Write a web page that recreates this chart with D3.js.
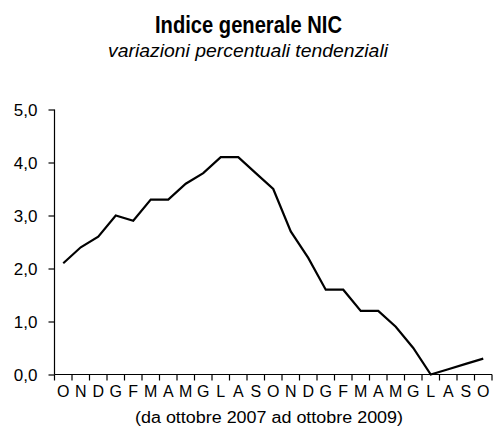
<!DOCTYPE html>
<html>
<head>
<meta charset="utf-8">
<script src="https://cdn.jsdelivr.net/npm/d3@7"></script>
<style>
  body { margin: 0; background: #fff; }
  svg text { font-family: "Liberation Sans", Arial, sans-serif; fill: #000; }
</style>
</head>
<body>
<svg id="chart"></svg>
<script>
// mesi da ottobre 2007 a ottobre 2009
const months = ["O", "N", "D", "G", "F", "M", "A", "M", "G", "L", "A", "S",
                "O", "N", "D", "G", "F", "M", "A", "M", "G", "L", "A", "S", "O"];
const values = [2.1, 2.4, 2.6, 3.0, 2.9, 3.3, 3.3, 3.6, 3.8, 4.1, 4.1, 3.8,
                3.5, 2.7, 2.2, 1.6, 1.6, 1.2, 1.2, 0.9, 0.5, 0.0, 0.1, 0.2, 0.3];
const yTicks = [0, 1, 2, 3, 4, 5];
const title = "Indice generale NIC";
const subtitle = "variazioni percentuali tendenziali";
const caption = "(da ottobre 2007 ad ottobre 2009)";

const width = 493, height = 436;
const plotLeft = 54.5, plotRight = 492, plotTop = 109.5, plotBottom = 374.5;

const data = months.map((m, i) => ({ key: i, label: m, v: values[i] }));

const x = d3.scaleBand()
    .domain(data.map(d => d.key))
    .range([plotLeft, plotRight]);
const y = d3.scaleLinear()
    .domain([0, 5])
    .range([plotBottom, plotTop]);

const svg = d3.select("#chart")
    .attr("width", width)
    .attr("height", height);

// titoli (carattere stretto: compresso con textLength)
svg.append("text")
    .attr("x", 248.5).attr("y", 32.5)
    .attr("text-anchor", "middle")
    .attr("textLength", 187)
    .attr("lengthAdjust", "spacingAndGlyphs")
    .style("font-weight", "bold")
    .style("font-size", "23px")
    .text(title);
svg.append("text")
    .attr("x", 248).attr("y", 57)
    .attr("text-anchor", "middle")
    .attr("textLength", 280)
    .attr("lengthAdjust", "spacingAndGlyphs")
    .style("font-style", "italic")
    .style("font-size", "19px")
    .text(subtitle);

// asse y
const yAxis = svg.append("g")
    .attr("transform", "translate(" + plotLeft + ",0)")
    .call(d3.axisLeft(y)
        .tickValues(yTicks)
        .tickSize(6)
        .tickPadding(11)
        .tickFormat(d => d3.format(".1f")(d).replace(".", ",")));
yAxis.select(".domain").attr("d", "M0," + plotTop + "V" + plotBottom).attr("stroke-width", 1.2);
yAxis.selectAll(".tick line").attr("stroke-width", 1.2);
yAxis.selectAll("text").style("font-size", "17px").attr("dy", "0.35em");

// asse x: tacche ai bordi delle categorie
const xAxis = svg.append("g")
    .attr("transform", "translate(0," + plotBottom + ")");
xAxis.append("line")
    .attr("x1", plotLeft).attr("x2", plotRight)
    .attr("stroke", "#000").attr("stroke-width", 1.2);
xAxis.selectAll(".tk")
    .data(d3.range(months.length + 1))
    .join("line")
    .attr("class", "tk")
    .attr("x1", i => plotLeft + i * x.step())
    .attr("x2", i => plotLeft + i * x.step())
    .attr("y1", 0).attr("y2", 6)
    .attr("stroke", "#000").attr("stroke-width", 1.2);
xAxis.selectAll(".lbl")
    .data(data)
    .join("text")
    .attr("class", "lbl")
    .attr("x", d => x(d.key) + x.bandwidth() / 2)
    .attr("y", 22)
    .attr("text-anchor", "middle")
    .style("font-size", "16px")
    .text(d => d.label);

svg.append("text")
    .attr("x", 269).attr("y", 423)
    .attr("text-anchor", "middle")
    .attr("textLength", 268)
    .attr("lengthAdjust", "spacingAndGlyphs")
    .style("font-size", "16px")
    .text(caption);

// serie
const line = d3.line()
    .x(d => x(d.key) + x.bandwidth() / 2)
    .y(d => y(d.v));
svg.append("path")
    .datum(data)
    .attr("fill", "none")
    .attr("stroke", "#000")
    .attr("stroke-width", 2.2)
    .attr("stroke-linejoin", "miter")
    .attr("d", line);
</script>
</body>
</html>
